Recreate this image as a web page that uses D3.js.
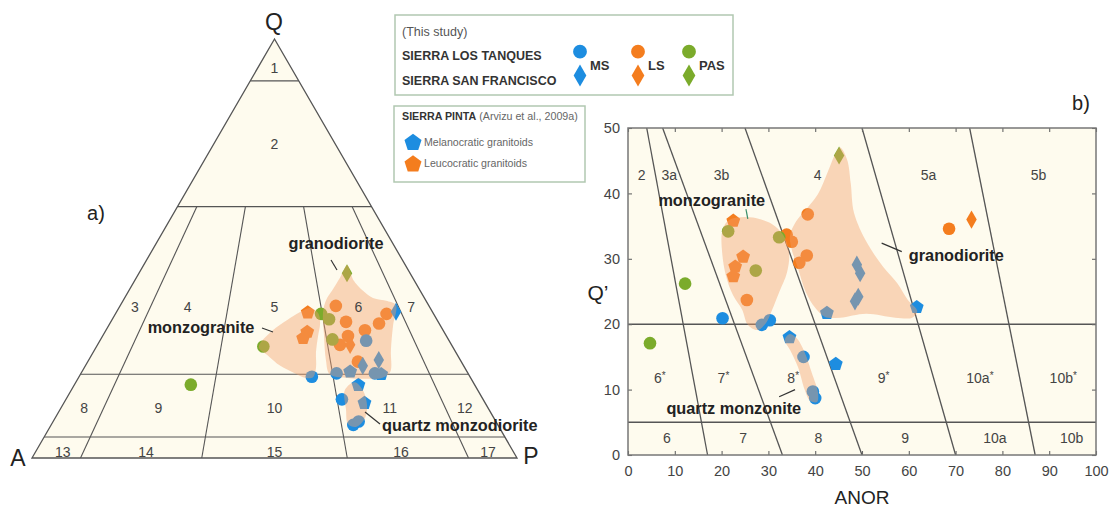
<!DOCTYPE html>
<html>
<head>
<meta charset="utf-8">
<script src="https://cdn.jsdelivr.net/npm/d3@7"></script>
<style>
  html, body { margin: 0; padding: 0; background: #fff; }
  svg { display: block; font-family: "Liberation Sans", Arial, Helvetica, sans-serif; }
</style>
</head>
<body>
<svg id="fig" width="1112" height="508"></svg>
<script>
// ===================== (a) QAP ternary data: [Q, A, P] in % =====================
const qapPasCircles   = [[26.6,39.0,34.4],[17.5,58.5,24.0],[34.4,23.2,42.4],[33.1,22.2,44.7],[28.3,23.9,47.8]];
const qapPasDiamonds  = [[44.1,13.0,42.9]];
const qapLsCircles    = [[36.3,19.2,44.5],[32.5,19.0,48.5],[34.4,9.7,55.9],[32.1,12.4,55.5],
                         [30.5,16.1,53.4],[29.1,20.3,50.6],[27.0,23.0,50.0],[23.0,21.3,55.7]];
const qapLsDiamonds   = [[27.0,20.9,52.1]];
const qapLeucoPentagons = [[34.7,25.8,39.5],[30.1,28.2,41.7],[28.6,29.8,41.6]];
const qapMsCircles    = [[28.0,17.1,54.9],[19.4,32.6,48.0],[20.2,27.1,52.7],[20.2,19.2,60.6],
                         [14.0,29.1,56.9],[7.9,29.8,62.3],[8.7,28.3,63.0]];
const qapMsDiamonds   = [[34.9,7.5,57.6],[22.0,20.8,57.2],[23.4,16.8,59.8]];
const qapMelanoPentagons = [[20.6,24.1,55.3],[20.0,18.0,62.0],[17.4,24.0,58.6],[13.1,24.9,62.0]];

// outlined rock fields (Q, A, P)
const qapMonzogranite = [[26.5,40.0,33.5],[30.5,35.1,34.4],[32.9,31.0,36.1],[34.8,27.4,37.8],[35.8,24.8,39.4],
  [34.6,23.7,41.7],[32.2,24.5,43.3],[28.9,26.6,44.5],[25.3,28.8,45.9],[21.5,30.7,47.8],[19.3,32.4,48.3],
  [19.1,34.0,46.9],[20.3,35.8,43.9],[22.0,37.8,40.2],[24.6,39.2,36.2]];
const qapGranodiorite = [[46.0,12.0,42.0],[42.5,12.5,45.0],[39.9,11.8,48.3],[38.2,10.6,51.2],[37.5,8.0,54.5],
  [36.5,6.7,56.8],[31.7,9.7,58.6],[25.8,13.1,61.1],[20.5,15.9,63.6],[19.1,18.3,62.6],[18.9,21.9,59.2],
  [19.1,25.3,55.6],[20.0,28.6,51.4],[23.4,27.7,48.9],[29.4,25.1,45.5],[34.8,22.6,42.6],[37.7,20.5,41.8],
  [39.9,18.2,41.9],[43.0,15.0,42.0]];
const qapQzMonzodiorite = [[16.2,27.4,56.4],[18.1,24.4,57.5],[16.2,23.7,60.1],[12.2,24.8,63.0],[9.1,27.0,63.9],
  [7.4,29.5,63.1],[8.1,30.8,61.1],[11.5,29.5,59.0]];

// Streckeisen QAP boundaries
const qapQLevels = [90, 60, 20, 5];          // horizontal Q boundaries
const qapPRatios = [10, 35, 65, 90];         // 100*P/(A+P) boundaries (below Q = 60)
// field number, Q level, P/(A+P)
const qapFieldLabels = [["1",93,0.5],["2",75,0.5],
  ["3",36,0.05],["4",36,0.22],["5",36,0.5],["6",36,0.77],["7",36,0.94],
  ["8",12,0.054],["9",12,0.228],["10",12,0.5],["11",12,0.77],["12",12,0.946],
  ["13",1.5,0.057],["14",1.5,0.231],["15",1.5,0.5],["16",1.5,0.765],["17",1.5,0.947]];

// ===================== (b) Q' - ANOR data: [ANOR, Q'] =====================
const anorPasCircles   = [[21.4,34.2],[32.3,33.3],[27.3,28.2],[12.2,26.2],[4.7,17.1]];
const anorPasDiamonds  = [[45.1,45.8]];
const anorLsCircles    = [[38.4,36.8],[33.9,33.7],[35.0,32.6],[38.2,30.5],[36.6,29.4],[25.4,23.7],[68.6,34.6]];
const anorLsDiamonds   = [[73.4,36.0]];
const anorLeucoPentagons = [[22.5,35.8],[24.6,30.3],[22.9,28.8],[22.5,27.3]];
const anorMsCircles    = [[20.2,20.9],[28.6,19.9],[30.3,20.6],[37.5,15.0],[39.5,9.7],[40.0,8.7]];
const anorMsDiamonds   = [[48.9,29.1],[49.6,27.8],[49.2,24.2],[48.5,23.5]];
const anorMelanoPentagons = [[42.5,21.7],[34.5,18.0],[44.4,13.9],[61.7,22.6]];

const anorMonzogranite = [[20.1,34.1],[21.2,35.7],[23.3,36.3],[26.7,36.3],[30.8,35.3],[33.1,33.7],[34.4,31.1],
  [34.0,28.0],[32.3,24.9],[30.8,22.2],[29.5,20.2],[27.6,19.1],[25.6,19.9],[24.4,22.2],[22.4,24.5],[20.9,27.5],[20.1,31.1]];
const anorGranodiorite = [[34.6,33.5],[35.9,35.7],[38.0,37.5],[40.6,39.9],[42.7,43.3],[44.2,45.9],[45.3,47.0],
  [46.8,45.2],[47.6,41.5],[48.3,37.0],[51.1,32.4],[54.5,28.8],[57.5,26.3],[59.8,23.7],[61.8,22.0],[60.7,21.0],
  [57.1,21.0],[50.9,21.6],[45.3,21.0],[42.1,21.1],[40.0,22.5],[38.0,24.9],[36.3,28.6],[35.0,31.4]];
const anorQzMonzonite = [[33.5,17.6],[34.6,18.5],[36.1,17.8],[37.8,15.6],[39.3,12.5],[40.6,9.5],[40.4,8.1],
  [38.9,8.3],[37.8,9.9],[36.3,13.5],[34.6,16.1]];

// field boundaries: [ANOR at Q'=50, ANOR at Q'=0]
const anorSlopedBounds = [[4,17],[7.4,33],[25,50],[50,70],[73,87]];
const anorQLevels = [20, 5];
const anorTicksX = d3.range(0, 101, 10);
const anorTicksY = d3.range(0, 51, 10);
// field name, ANOR, Q', starred
const anorFieldLabels = [["2",2.9,42.8,false],["3a",8.8,42.8,false],["3b",20,42.8,false],["4",40.5,42.8,false],
  ["5a",64.2,42.8,false],["5b",87.7,42.8,false],
  ["6",6.8,11.7,true],["7",20.4,11.7,true],["8",35.3,11.7,true],["9",54.6,11.7,true],["10a",75.2,11.7,true],["10b",93,11.7,true],
  ["6",8.3,2.55,false],["7",24.6,2.55,false],["8",40.7,2.55,false],["9",59.2,2.55,false],["10a",78.4,2.55,false],["10b",94.8,2.55,false]];

// ===================== styling =====================
const BLUE = "#1d8de0", ORANGE = "#f47d1e", GREEN = "#7bab2b";
const CREAM = "#fefbee", LINE = "#555", FIELD = "#f2a06c";

const svg = d3.select("#fig");

// custom pentagon symbol
const symbolPentagon = {
  draw(ctx, size) {
    const r = Math.sqrt(size / (2.5 * Math.sin(2 * Math.PI / 5)));
    for (let i = 0; i < 5; i++) {
      const a = -Math.PI / 2 + i * 2 * Math.PI / 5;
      const x = r * Math.cos(a), y = r * Math.sin(a);
      if (i) ctx.lineTo(x, y); else ctx.moveTo(x, y);
    }
    ctx.closePath();
  }
};
const shapes = {
  circle: d3.symbol(d3.symbolCircle, 125)(),
  diamond: d3.symbol(d3.symbolDiamond, 95)(),
  pentagon: d3.symbol(symbolPentagon, 125)()
};

// ===================== (a) ternary =====================
const tx = d3.scaleLinear().domain([0, 100]).range([32, 517]);  // P + Q/2
const ty = d3.scaleLinear().domain([0, 100]).range([458, 39]);  // Q
function tern(d) {
  const s = d[0] + d[1] + d[2];
  const Q = 100 * d[0] / s, P = 100 * d[2] / s;
  return [tx(P + Q / 2), ty(Q)];
}
const ga = svg.append("g");

ga.append("path")
  .attr("d", d3.line()([[100,0,0],[0,100,0],[0,0,100]].map(tern)) + "Z")
  .attr("fill", CREAM).attr("stroke", LINE).attr("stroke-width", 1.3);

const qapSegments = [];
qapQLevels.forEach(q => qapSegments.push([[q, 100 - q, 0], [q, 0, 100 - q]]));
qapPRatios.forEach(r => qapSegments.push([[60, 40 * (1 - r / 100), 40 * r / 100], [0, 100 - r, r]]));
ga.selectAll("line.bound").data(qapSegments).join("line")
  .attr("x1", d => tern(d[0])[0]).attr("y1", d => tern(d[0])[1])
  .attr("x2", d => tern(d[1])[0]).attr("y2", d => tern(d[1])[1])
  .attr("stroke", LINE).attr("stroke-width", 1.1);

function drawSymbols(g, data, pos, shape, color) {
  g.append("g").selectAll("path").data(data).join("path")
    .attr("d", shapes[shape])
    .attr("transform", d => { const p = pos(d); return `translate(${p[0]},${p[1]})`; })
    .attr("fill", color);
}
const qapLayers = [
  [qapLeucoPentagons, "pentagon", ORANGE], [qapLsCircles, "circle", ORANGE], [qapLsDiamonds, "diamond", ORANGE],
  [qapPasCircles, "circle", GREEN], [qapPasDiamonds, "diamond", GREEN],
  [qapMsCircles, "circle", BLUE], [qapMelanoPentagons, "pentagon", BLUE], [qapMsDiamonds, "diamond", BLUE]
];
qapLayers.forEach(([d, s, c]) => drawSymbols(ga, d, tern, s, c));

const blob = d3.line().curve(d3.curveCatmullRomClosed.alpha(0.5));
[qapMonzogranite, qapGranodiorite, qapQzMonzodiorite].forEach(r => {
  ga.append("path").attr("d", blob(r.map(tern)))
    .attr("fill", FIELD).attr("fill-opacity", 0.42).attr("stroke", "none");
});

ga.selectAll("text.field").data(qapFieldLabels).join("text")
  .attr("x", d => tern([d[1], (100 - d[1]) * (1 - d[2]), (100 - d[1]) * d[2]])[0])
  .attr("y", d => tern([d[1], (100 - d[1]) * (1 - d[2]), (100 - d[1]) * d[2]])[1])
  .attr("text-anchor", "middle").attr("dominant-baseline", "central")
  .attr("font-size", 14).attr("fill", "#444").text(d => d[0]);

// corner labels
[["Q", 274, 22], ["A", 18, 458], ["P", 531, 456]].forEach(([t, x, y]) =>
  ga.append("text").attr("x", x).attr("y", y).attr("text-anchor", "middle")
    .attr("dominant-baseline", "central").attr("font-size", 23).attr("fill", "#222").text(t));
ga.append("text").attr("x", 96).attr("y", 213).attr("text-anchor", "middle").attr("dominant-baseline", "central")
  .attr("font-size", 20).attr("fill", "#222").text("a)");

// rock-name annotations
function note(g, text, x, y, anchor) {
  g.append("text").attr("x", x).attr("y", y).attr("text-anchor", anchor).attr("dominant-baseline", "central")
    .attr("font-size", 16.3).attr("font-weight", "bold").attr("fill", "#222").text(text);
}
function leader(g, x1, y1, x2, y2, color) {
  g.append("line").attr("x1", x1).attr("y1", y1).attr("x2", x2).attr("y2", y2)
    .attr("stroke", color || "#333").attr("stroke-width", 1.2);
}
note(ga, "granodiorite", 336, 243, "middle");
leader(ga, 331, 260, 337, 270);
note(ga, "monzogranite", 201, 327, "middle");
leader(ga, 262, 328, 273, 332);
note(ga, "quartz monzodiorite", 382, 425, "start");
leader(ga, 365, 412, 380, 424);

// ===================== (b) Q' - ANOR =====================
const bx = d3.scaleLinear().domain([0, 100]).range([628, 1096]);
const by = d3.scaleLinear().domain([0, 50]).range([455, 128]);
const gb = svg.append("g");

gb.append("rect").attr("x", bx(0)).attr("y", by(50)).attr("width", bx(100) - bx(0)).attr("height", by(0) - by(50))
  .attr("fill", CREAM);

anorQLevels.forEach(q => gb.append("line")
  .attr("x1", bx(0)).attr("x2", bx(100)).attr("y1", by(q)).attr("y2", by(q))
  .attr("stroke", LINE).attr("stroke-width", 1.4));
gb.selectAll("line.slope").data(anorSlopedBounds).join("line")
  .attr("x1", d => bx(d[0])).attr("y1", by(50)).attr("x2", d => bx(d[1])).attr("y2", by(0))
  .attr("stroke", LINE).attr("stroke-width", 1.3);

const bpos = d => [bx(d[0]), by(d[1])];
const anorLayers = [
  [anorLeucoPentagons, "pentagon", ORANGE], [anorLsCircles, "circle", ORANGE], [anorLsDiamonds, "diamond", ORANGE],
  [anorPasCircles, "circle", GREEN], [anorPasDiamonds, "diamond", GREEN],
  [anorMsCircles, "circle", BLUE], [anorMelanoPentagons, "pentagon", BLUE], [anorMsDiamonds, "diamond", BLUE]
];
anorLayers.forEach(([d, s, c]) => drawSymbols(gb, d, bpos, s, c));

[anorMonzogranite, anorGranodiorite, anorQzMonzonite].forEach(r => {
  gb.append("path").attr("d", blob(r.map(bpos)))
    .attr("fill", FIELD).attr("fill-opacity", 0.42).attr("stroke", "none");
});

const fl = gb.selectAll("text.field").data(anorFieldLabels).join("text")
  .attr("x", d => bx(d[1])).attr("y", d => by(d[2]))
  .attr("text-anchor", "middle").attr("dominant-baseline", "central")
  .attr("font-size", 14).attr("fill", "#444");
fl.append("tspan").text(d => d[0]);
fl.filter(d => d[3]).append("tspan").attr("font-size", 10).attr("dy", -3).text("*");

note(gb, "monzogranite", bx(17.9), by(39.0), "middle");
leader(gb, bx(25.2), by(37.6), bx(25.6), by(36.1), "#3a8f6a");
note(gb, "granodiorite", bx(60.0), by(30.6), "start");
leader(gb, bx(54.2), by(32.4), bx(58.5), by(31.1));
note(gb, "quartz monzonite", bx(22.6), by(7.2), "middle");
leader(gb, bx(32.3), by(8.9), bx(35.7), by(10.0));

// axes with inward ticks on all four sides
const axB = gb.append("g").attr("transform", `translate(0,${by(0)})`)
  .call(d3.axisBottom(bx).tickValues(anorTicksX).tickSizeInner(-4).tickSizeOuter(0).tickPadding(11));
const axL = gb.append("g").attr("transform", `translate(${bx(0)},0)`)
  .call(d3.axisLeft(by).tickValues(anorTicksY).tickSizeInner(-4).tickSizeOuter(0).tickPadding(8));
const axT = gb.append("g").attr("transform", `translate(0,${by(50)})`)
  .call(d3.axisTop(bx).tickValues(anorTicksX).tickSizeInner(-4).tickSizeOuter(0).tickFormat(""));
const axR = gb.append("g").attr("transform", `translate(${bx(100)},0)`)
  .call(d3.axisRight(by).tickValues(anorTicksY).tickSizeInner(-4).tickSizeOuter(0).tickFormat(""));
[axB, axL, axT, axR].forEach(a => {
  a.select(".domain").remove();
  a.selectAll(".tick line").attr("stroke", "#666").attr("stroke-width", 1.1);
  a.selectAll(".tick text").attr("font-size", 14.5).attr("fill", "#444")
    .attr("font-family", "\"Liberation Sans\", Arial, sans-serif");
});
gb.append("rect").attr("x", bx(0)).attr("y", by(50)).attr("width", bx(100) - bx(0)).attr("height", by(0) - by(50))
  .attr("fill", "none").attr("stroke", "#777").attr("stroke-width", 1.5);

gb.append("text").attr("x", 598).attr("y", 292).attr("text-anchor", "middle").attr("dominant-baseline", "central")
  .attr("font-size", 21).attr("fill", "#222").text("Q’");
gb.append("text").attr("x", 862).attr("y", 497).attr("text-anchor", "middle").attr("dominant-baseline", "central")
  .attr("font-size", 19).attr("fill", "#222").text("ANOR");
gb.append("text").attr("x", 1081).attr("y", 103).attr("text-anchor", "middle").attr("dominant-baseline", "central")
  .attr("font-size", 20).attr("fill", "#222").text("b)");

// ===================== legends =====================
const lg = svg.append("g");
lg.append("rect").attr("x", 395).attr("y", 15).attr("width", 338).attr("height", 80)
  .attr("fill", "#fff").attr("stroke", "#b1c8b1").attr("stroke-width", 1.5);
lg.append("text").attr("x", 402).attr("y", 36).attr("font-size", 12.5).attr("fill", "#555").text("(This study)");
lg.append("text").attr("x", 402).attr("y", 60).attr("font-size", 12.5).attr("font-weight", "bold").attr("fill", "#333")
  .text("SIERRA LOS TANQUES");
lg.append("text").attr("x", 402).attr("y", 84.5).attr("font-size", 12.5).attr("font-weight", "bold").attr("fill", "#333")
  .text("SIERRA SAN FRANCISCO");
const legendGroups = [["MS", BLUE, 580], ["LS", ORANGE, 638], ["PAS", GREEN, 689]];
legendGroups.forEach(([name, color, x]) => {
  lg.append("path").attr("d", d3.symbol(d3.symbolCircle, 150)()).attr("transform", `translate(${x},51.7)`).attr("fill", color);
  lg.append("path").attr("d", d3.symbol(d3.symbolDiamond, 140)()).attr("transform", `translate(${x},75.5)`).attr("fill", color);
  lg.append("text").attr("x", x + 10).attr("y", 69.5).attr("font-size", 13).attr("font-weight", "bold")
    .attr("fill", "#333").text(name);
});

lg.append("rect").attr("x", 394).attr("y", 106).attr("width", 191).attr("height", 76)
  .attr("fill", "#fff").attr("stroke", "#b1c8b1").attr("stroke-width", 1.5);
const t2 = lg.append("text").attr("x", 402).attr("y", 120).attr("font-size", 10.7).attr("fill", "#333");
t2.append("tspan").attr("font-weight", "bold").text("SIERRA PINTA");
t2.append("tspan").attr("fill", "#666").text(" (Arvizu et al., 2009a)");
[["Melanocratic granitoids", BLUE, 141.7], ["Leucocratic granitoids", ORANGE, 163.3]].forEach(([label, color, y]) => {
  lg.append("path").attr("d", d3.symbol(symbolPentagon, 190)()).attr("transform", `translate(413,${y + 1})`).attr("fill", color);
  lg.append("text").attr("x", 424).attr("y", y + 4).attr("font-size", 10.6).attr("fill", "#666").text(label);
});
</script>
</body>
</html>
